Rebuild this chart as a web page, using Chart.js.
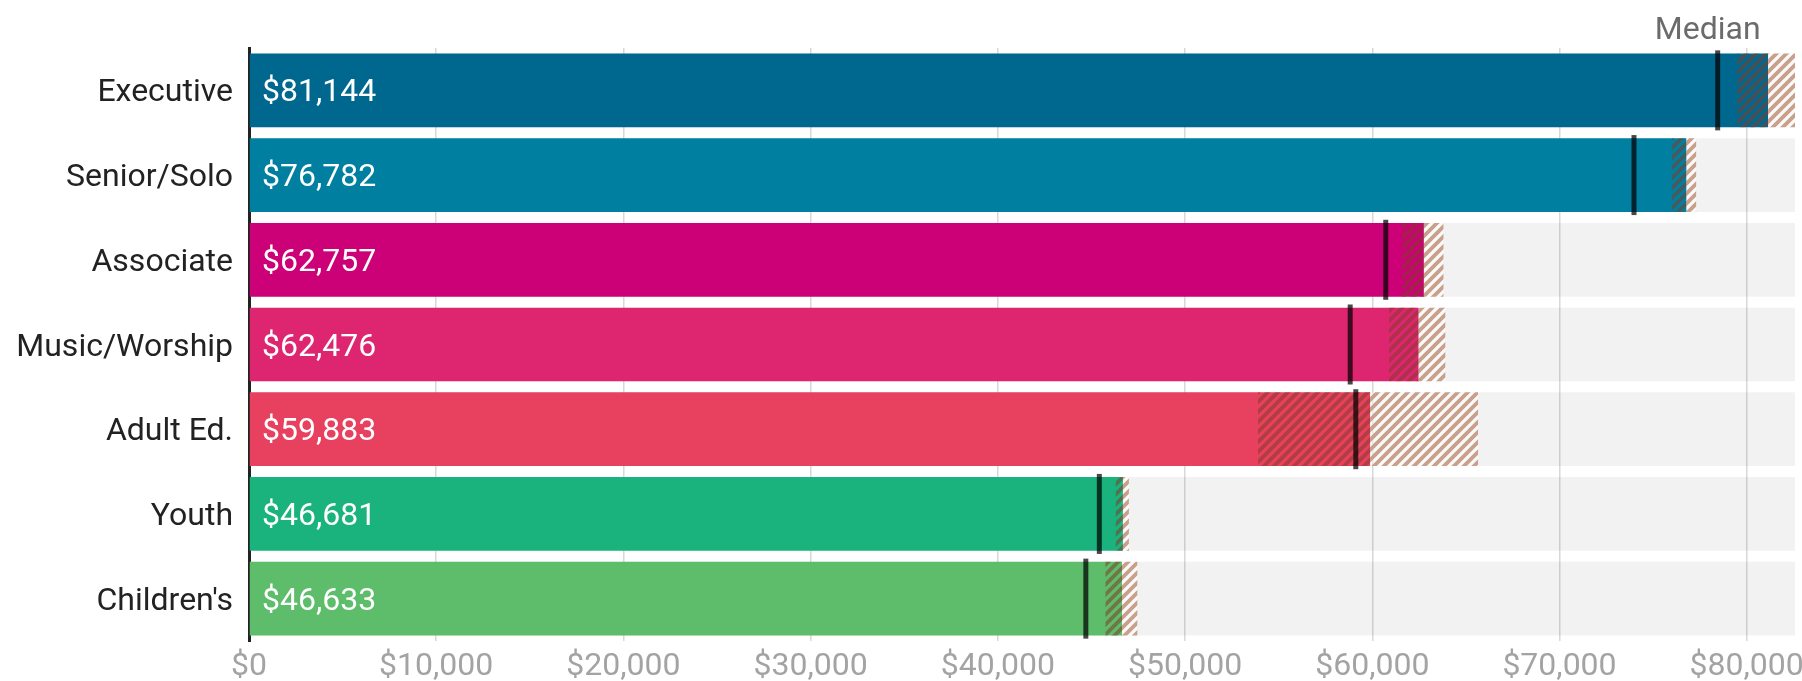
<!DOCTYPE html>
<html>
<head>
<meta charset="utf-8">
<script src="https://cdn.jsdelivr.net/npm/chart.js@4.4.1/dist/chart.umd.min.js"></script>
<style>
  html, body { margin: 0; padding: 0; background: #ffffff; }
  #wrap { width: 1802px; height: 681px; position: relative; }
</style>
</head>
<body>
<div id="wrap"><canvas id="c"></canvas></div>
<script>
const categories = ["Executive", "Senior/Solo", "Associate", "Music/Worship", "Adult Ed.", "Youth", "Children's"];
const averages   = [81144, 76782, 62757, 62476, 59883, 46681, 46633];
const ciLow      = [79500, 76000, 61600, 60900, 53900, 46300, 45750];
const ciHigh     = [82580, 77300, 63800, 63900, 65650, 47000, 47450];
const medians    = [78450, 73980, 60720, 58820, 59120, 45420, 44700];
const barColors  = ["#00688f", "#007fa0", "#cc0077", "#de2670", "#e8405f", "#1ab37e", "#5dbd6b"];
const tickValues = [0, 10000, 20000, 30000, 40000, 50000, 60000, 70000, 80000];
const xMax       = Math.max(...ciHigh);

const FONT = "Roboto, 'Noto Sans', 'Liberation Sans', sans-serif";

function makePattern(stripe, bg) {
  const c = document.createElement('canvas');
  c.width = 10; c.height = 10;
  const g = c.getContext('2d');
  if (bg) { g.fillStyle = bg; g.fillRect(0, 0, 10, 10); }
  g.strokeStyle = stripe;
  g.lineWidth = 3.8;
  g.beginPath();
  g.moveTo(-5, 5); g.lineTo(5, -5);
  g.moveTo(0, 10); g.lineTo(10, 0);
  g.moveTo(5, 15); g.lineTo(15, 5);
  g.stroke();
  return g.createPattern(c, 'repeat');
}

const valueLabels = {
  id: 'valueLabels',
  afterDatasetsDraw(chart) {
    const ctx = chart.ctx;
    const meta = chart.getDatasetMeta(1);
    const x0 = chart.scales.x.getPixelForValue(0);
    ctx.save();
    ctx.font = "32px " + FONT;
    ctx.fillStyle = "#ffffff";
    ctx.textAlign = "left";
    ctx.textBaseline = "middle";
    meta.data.forEach((el, i) => {
      ctx.fillText("$" + averages[i].toLocaleString('en-US'), x0 + 13, el.y + 3);
    });
    ctx.restore();
  }
};

const medianTitle = {
  id: 'medianTitle',
  afterDraw(chart) {
    const ctx = chart.ctx;
    const x = chart.scales.x.getPixelForValue(medians[0]) - 10;
    ctx.save();
    ctx.font = "32px " + FONT;
    ctx.fillStyle = "#6b6b6b";
    ctx.textAlign = "center";
    ctx.textBaseline = "alphabetic";
    ctx.fillText("Median", x, 39);
    ctx.restore();
  }
};

function build() {
  const darkHatch = makePattern("rgba(130,60,40,0.55)", null);
  const tanHatch  = makePattern("#c9a08b", "rgba(255,255,255,0.55)");
  const common = { barPercentage: 0.87, categoryPercentage: 1.0, grouped: false, borderWidth: 0 };

  new Chart(document.getElementById('c'), {
    type: 'bar',
    data: {
      labels: categories,
      datasets: [
        Object.assign({ label: 'track', data: categories.map(() => xMax), backgroundColor: 'rgba(0,0,0,0.05)', order: 5 }, common),
        Object.assign({ label: 'Average', data: averages, backgroundColor: barColors, order: 4 }, common),
        Object.assign({ label: 'CI low', data: categories.map((c, i) => [ciLow[i], averages[i]]), backgroundColor: darkHatch, order: 3 }, common),
        Object.assign({ label: 'CI high', data: categories.map((c, i) => [averages[i], ciHigh[i]]), backgroundColor: tanHatch, order: 2 }, common),
        {
          type: 'line', label: 'Median', indexAxis: 'y',
          data: categories.map((c, i) => ({ x: medians[i], y: c })),
          showLine: false, pointStyle: 'line', rotation: 90,
          pointRadius: 40, pointHoverRadius: 40, borderWidth: 5, pointBorderWidth: 5,
          borderColor: 'rgba(0,0,0,0.72)', pointBorderColor: 'rgba(0,0,0,0.72)', order: 1
        }
      ]
    },
    options: {
      indexAxis: 'y',
      responsive: true,
      maintainAspectRatio: false,
      animation: false,
      events: [],
      layout: { autoPadding: false, padding: { top: 48, right: 7, left: 0, bottom: 0 } },
      plugins: { legend: { display: false }, tooltip: { enabled: false }, title: { display: false } },
      scales: {
        x: {
          type: 'linear', min: 0, max: xMax,
          grid: { color: '#d8d8d8', lineWidth: 1.5, drawTicks: false },
          border: { display: false },
          ticks: {
            padding: 7, color: '#a3a3a3',
            font: { family: FONT, size: 32 },
            maxRotation: 0, autoSkip: false,
            callback: (v) => '$' + Number(v).toLocaleString('en-US')
          },
          afterBuildTicks(scale) { scale.ticks = tickValues.map(v => ({ value: v })); },
          afterFit(scale) { scale.height = 40; scale.paddingLeft = 0; scale.paddingRight = 0; }
        },
        y: {
          type: 'category',
          grid: { display: false, drawTicks: false },
          border: { display: true, color: '#222222', width: 3 },
          ticks: { padding: 16, labelOffset: 3, color: '#222222', font: { family: FONT, size: 32 } },
          afterFit(scale) { scale.width = 249; scale.paddingTop = 0; scale.paddingBottom = 0; }
        }
      }
    },
    plugins: [valueLabels, medianTitle]
  });
}

if (document.fonts && document.fonts.load) {
  document.fonts.load("32px Roboto").then(build, build);
} else { build(); }
</script>
</body>
</html>
